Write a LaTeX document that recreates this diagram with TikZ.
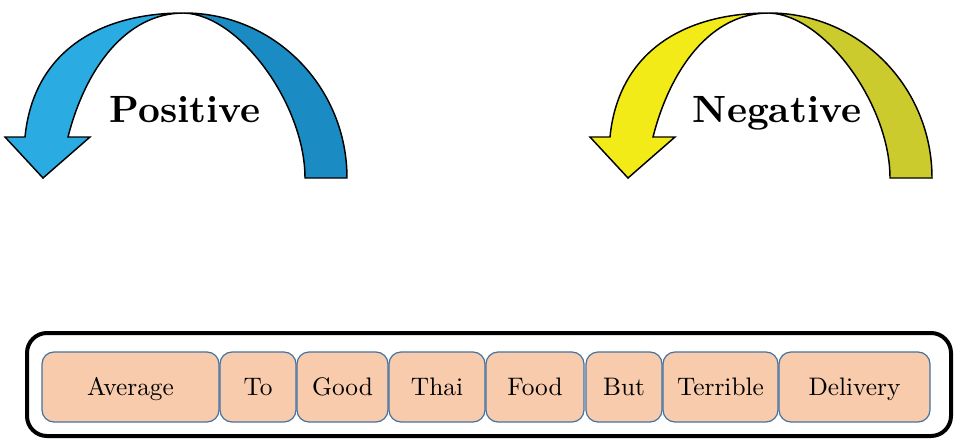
\documentclass[tikz,border=0pt]{standalone}
\usepackage{fontspec}
\newfontfamily\wordfont{lmroman10-regular.otf}
\newfontfamily\titlefont{lmroman10-bold.otf}
\definecolor{poslight}{HTML}{2AACE3}
\definecolor{posdark}{HTML}{1B8CC3}
\definecolor{neglight}{HTML}{F3EB17}
\definecolor{negdark}{HTML}{CCCB2D}
\definecolor{wordfill}{HTML}{F7CBAC}
\definecolor{wordline}{HTML}{4472A0}
\begin{document}
\begin{tikzpicture}[x=0.75pt,y=0.75pt,
  arrowline/.style={draw=black, line width=1.1pt, line join=miter},
  bigtitle/.style={font=\titlefont\fontsize{28.5}{30}\selectfont, anchor=base, inner sep=0pt},
  wordbox/.style={draw=wordline, fill=wordfill, line width=0.9pt, rounded corners=9pt,
    minimum height=52.5pt, inner sep=0pt, text height=13pt, text depth=0pt,
    font=\wordfont\fontsize{19}{21}\selectfont},
  outerbox/.style={draw=black, line width=3pt, rounded corners=15pt, inner sep=0pt,
    minimum width=693pt, minimum height=77.25pt}]
\useasboundingbox (0,0) rectangle (956,440);
\foreach \dx/\cl/\cd in {0/poslight/posdark, 585/neglight/negdark} {
  \begin{scope}[xshift=\dx*0.75pt]
    \filldraw[fill=\cd, arrowline] (184,427) .. controls (274.5,427) and (347,353) .. (347,262)
      -- (305,262) .. controls (305,335) and (240,425) .. (184,427) -- cycle;
    \filldraw[fill=\cl, arrowline] (184,427) .. controls (95,427) and (33,385) .. (25,303)
      -- (5,303) -- (43,262) -- (90,303) -- (68,303)
      .. controls (85,370) and (125,427) .. (184,427) -- cycle;
  \end{scope}
}
\node[bigtitle] (pos) at (185,318) {Positive};
\node[bigtitle] (neg) at (777,318) {Negative};
\node[outerbox] (frame1) at (489,55.5) {};
\node[wordbox, minimum width=132.75pt] (w1) at (130.5,53) {Average};
\node[wordbox, minimum width=57pt] (w2) at (258,53) {To};
\node[wordbox, minimum width=68.25pt] (w3) at (342.5,53) {Good};
\node[wordbox, minimum width=72pt] (w4) at (437,53) {Thai};
\node[wordbox, minimum width=73.5pt] (w5) at (535,53) {Food};
\node[wordbox, minimum width=57pt] (w6) at (624,53) {But};
\node[wordbox, minimum width=86.25pt] (w7) at (720.5,53) {Terrible};
\node[wordbox, minimum width=113.25pt] (w8) at (854.5,53) {Delivery};
\end{tikzpicture}
\end{document}
